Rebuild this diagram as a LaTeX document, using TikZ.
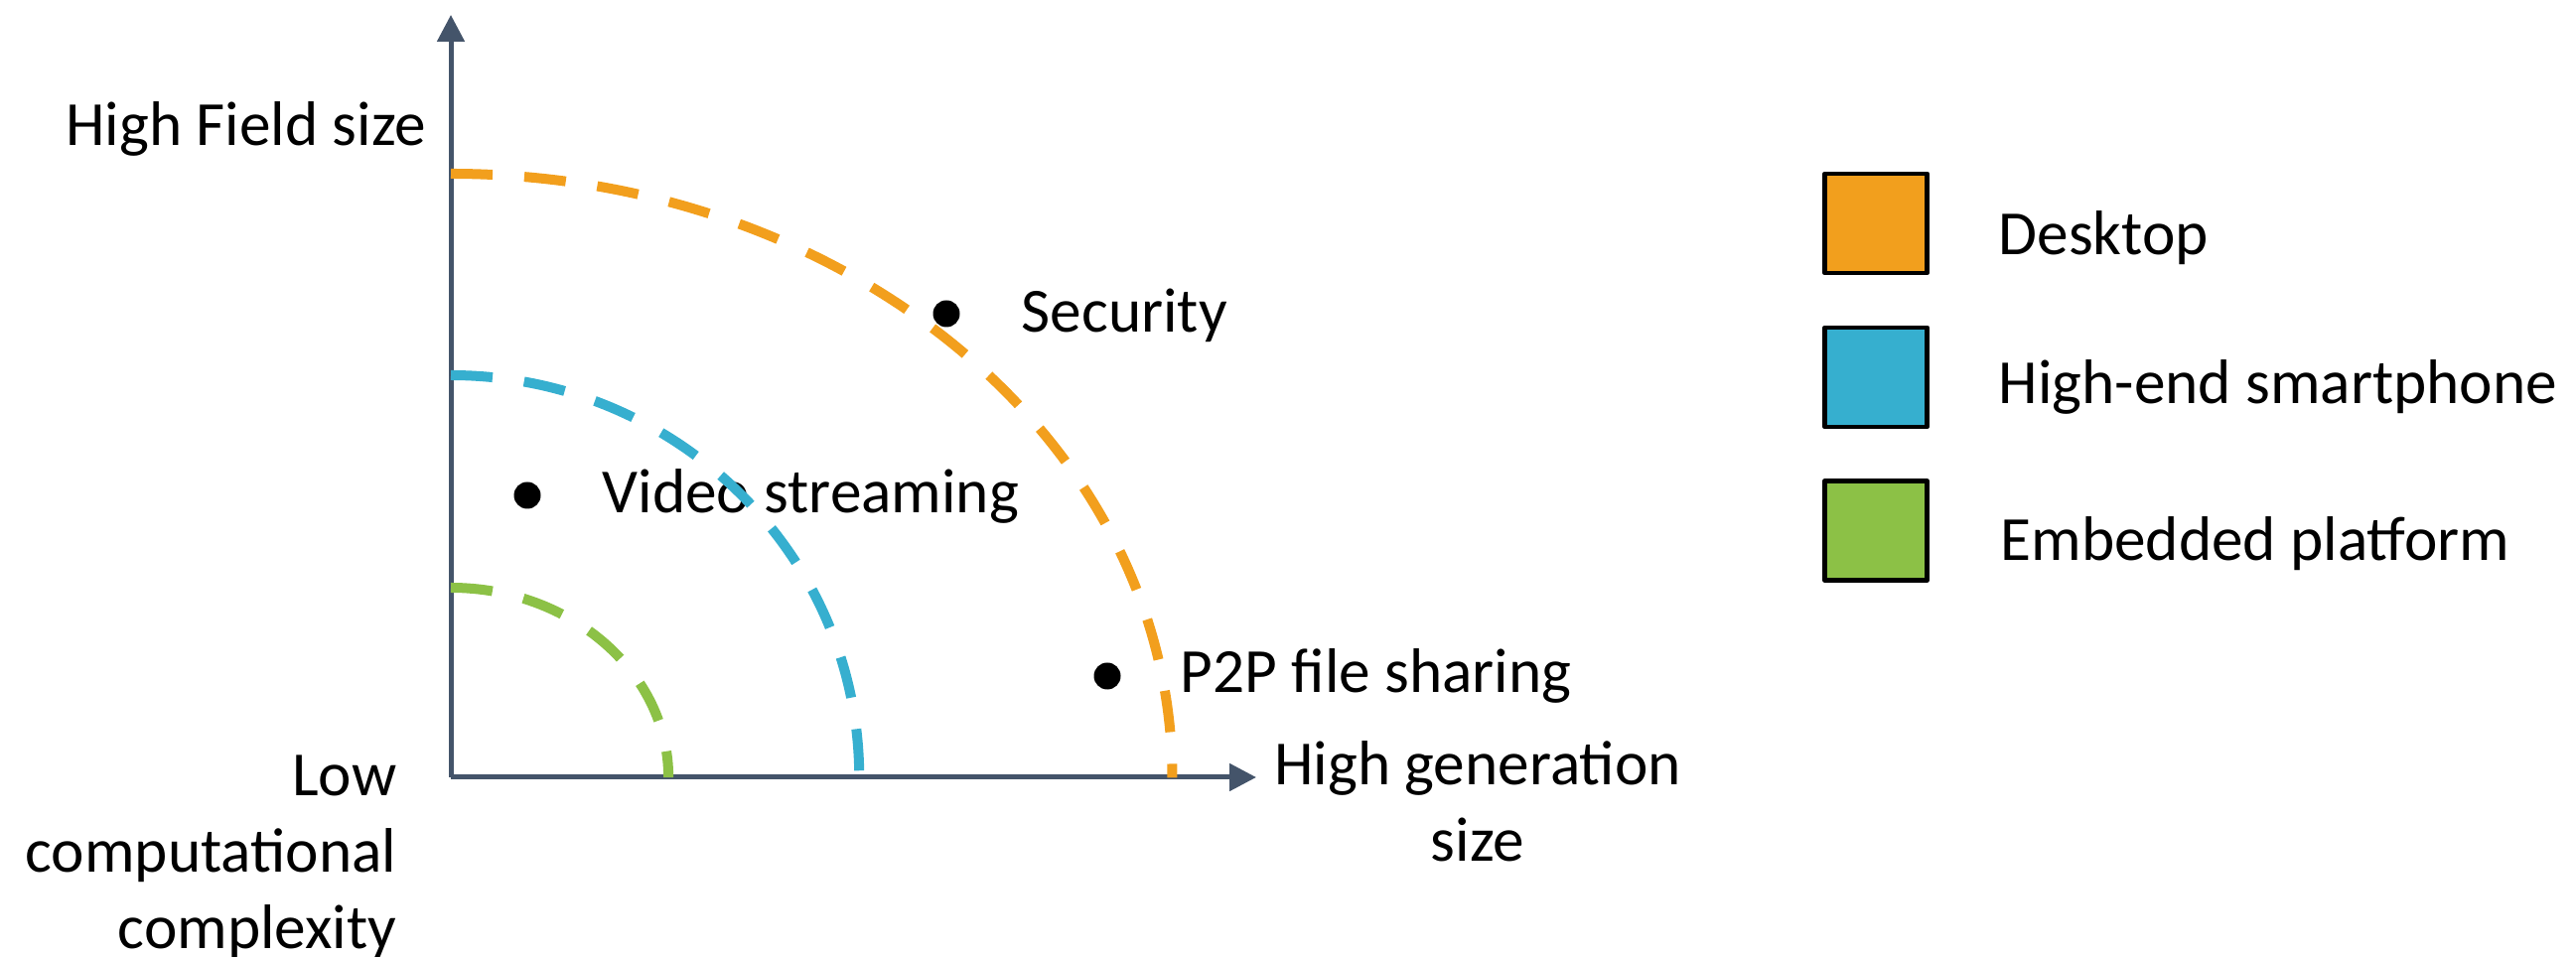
\documentclass[tikz,border=0pt]{standalone}
\usepackage{fontspec}
\setmainfont{Carlito}
\usetikzlibrary{arrows.meta}
\definecolor{axisgray}{HTML}{44546A}
\definecolor{deskorange}{HTML}{F29F1D}
\definecolor{phoneblue}{HTML}{36AFCF}
\definecolor{embedgreen}{HTML}{8CC146}
\begin{document}
\begin{tikzpicture}[x=0.01cm,y=0.01cm,
  axis/.style={draw=axisgray, line width=0.05cm, -{Triangle[length=0.27cm,width=0.27cm]}},
  bound/.style={line width=0.1cm, dash pattern=on 0.42cm off 0.32cm},
  lbl/.style={inner sep=0pt, font=\fontsize{18pt}{22pt}\selectfont},
  dotmark/.style={circle, fill=black, inner sep=0pt, minimum size=0.27cm},
  swatch/.style={draw=black, line width=0.047cm, line join=round,
    minimum width=1.03cm, minimum height=1.0cm, inner sep=0pt}]
\useasboundingbox (0,0) rectangle (2594,964);

% axes
\coordinate (O) at (454,181);
\coordinate (ytip) at (454,949);
\coordinate (xtip) at (1265,181);
\draw[axis] (O) -- (ytip);
\draw[axis] (O) -- (xtip);

% axis labels (multi-line nodes: base is the last line)
\node[lbl, anchor=base east] (ylab) at (430,817) {High Field size};
\node[lbl, anchor=base east, align=right] (olab) at (400,8) {Low\\computational\\complexity};
\node[lbl, anchor=base, align=center] (xlab) at (1488,96) {High generation\\size};

% application labels
\node[lbl, anchor=base west] (sec) at (1028,629) {Security};
\node[lbl, anchor=base west] (vid) at (606,447) {Video streaming};
\node[lbl, anchor=base west] (p2p) at (1188,266) {P2P file sharing};

% platform boundaries
\draw[bound, draw=deskorange] (454,789) arc[start angle=90, end angle=0, x radius=7.26cm, y radius=6.08cm];
\draw[bound, draw=phoneblue] (454,586) arc[start angle=90, end angle=0, x radius=4.11cm, y radius=4.05cm];
\draw[bound, draw=embedgreen] (454,372) arc[start angle=90, end angle=0, x radius=2.19cm, y radius=1.91cm];

% application points
\node[dotmark] (secdot) at (953,648) {};
\node[dotmark] (viddot) at (531,465) {};
\node[dotmark] (p2pdot) at (1115,283) {};

% legend
\node[swatch, fill=deskorange] (swdesk) at (1889,739) {};
\node[lbl, anchor=base west] (ldesk) at (2012,707) {Desktop};
\node[swatch, fill=phoneblue] (swphone) at (1889,584) {};
\node[lbl, anchor=base west] (lphone) at (2012,557) {High-end smartphone};
\node[swatch, fill=embedgreen] (swemb) at (1889,429.5) {};
\node[lbl, anchor=base west] (lemb) at (2014,399) {Embedded platform};
\end{tikzpicture}
\end{document}
